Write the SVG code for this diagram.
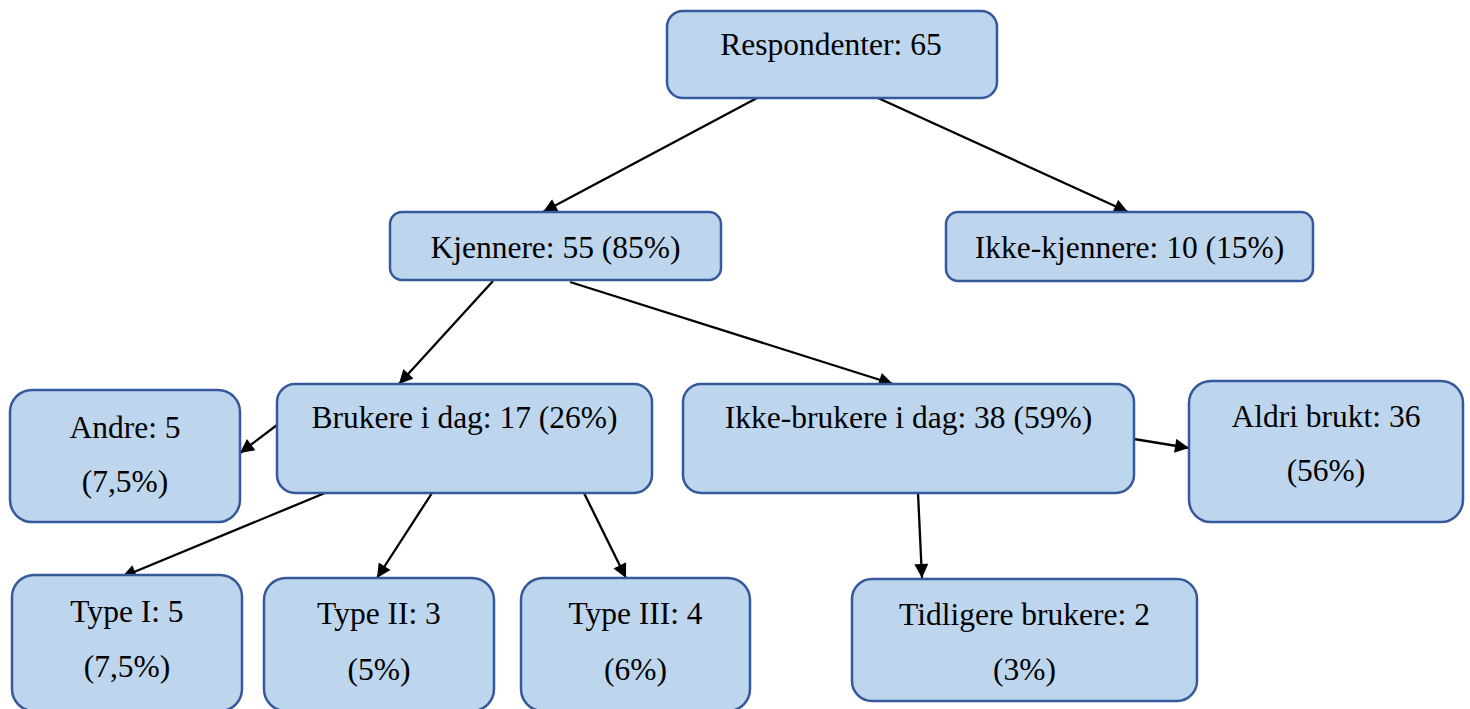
<svg xmlns="http://www.w3.org/2000/svg" width="1470" height="709" viewBox="0 0 1470 709">
<defs>
<style>
.box{fill:#BDD6EE;stroke:#35599A;stroke-width:2.5}
.t{font-family:"Liberation Serif","Times New Roman",serif;font-size:31.5px;fill:#000;text-anchor:middle}
.c{stroke:#000;stroke-width:2.3;fill:none;marker-end:url(#ah)}
</style>
<marker id="ah" viewBox="0 0 10 10" refX="10" refY="5" markerWidth="17" markerHeight="14" markerUnits="userSpaceOnUse" orient="auto">
<path d="M0,0 L10,5 L0,10 z" fill="#000"/>
</marker>
</defs>
<rect width="1470" height="709" fill="#fff"/>
<g id="connectors">
<line class="c" x1="757" y1="98" x2="543" y2="212"/>
<line class="c" x1="878" y1="98" x2="1128" y2="212"/>
<line class="c" x1="493" y1="281" x2="399" y2="384"/>
<line class="c" x1="570" y1="282" x2="893" y2="384"/>
<line class="c" x1="277" y1="425" x2="240" y2="453"/>
<line class="c" x1="1134" y1="439" x2="1189" y2="448"/>
<line class="c" x1="325" y1="493" x2="122" y2="577"/>
<line class="c" x1="432" y1="493" x2="377" y2="578"/>
<line class="c" x1="584" y1="493" x2="626" y2="578"/>
<line class="c" x1="918" y1="493" x2="922" y2="578"/>
</g>
<g id="respondenter">
<rect class="box" x="667" y="11" width="330" height="87" rx="16"/>
<text class="t" x="831" y="55">Respondenter: 65</text>
</g>
<g id="kjennere">
<rect class="box" x="390" y="212" width="331" height="68" rx="12"/>
<text class="t" x="555.5" y="258">Kjennere: 55 (85%)</text>
</g>
<g id="ikke-kjennere">
<rect class="box" x="946" y="212" width="367" height="69" rx="12"/>
<text class="t" x="1129.5" y="258">Ikke-kjennere: 10 (15%)</text>
</g>
<g id="andre">
<rect class="box" x="10" y="390" width="230" height="132" rx="22"/>
<text class="t" x="125" y="438">Andre: 5</text>
<text class="t" x="125" y="492">(7,5%)</text>
</g>
<g id="brukere">
<rect class="box" x="277" y="384" width="375" height="109" rx="18"/>
<text class="t" x="464.5" y="428">Brukere i dag: 17 (26%)</text>
</g>
<g id="ikke-brukere">
<rect class="box" x="683" y="384" width="451" height="109" rx="18"/>
<text class="t" x="908.5" y="428">Ikke-brukere i dag: 38 (59%)</text>
</g>
<g id="aldri">
<rect class="box" x="1189" y="381" width="274" height="141" rx="22"/>
<text class="t" x="1326" y="427">Aldri brukt: 36</text>
<text class="t" x="1326" y="481">(56%)</text>
</g>
<g id="type1">
<rect class="box" x="12" y="575" width="230" height="136" rx="22"/>
<text class="t" x="127" y="622">Type I: 5</text>
<text class="t" x="127" y="677">(7,5%)</text>
</g>
<g id="type2">
<rect class="box" x="264" y="578" width="230" height="133" rx="22"/>
<text class="t" x="379" y="624">Type II: 3</text>
<text class="t" x="379" y="680">(5%)</text>
</g>
<g id="type3">
<rect class="box" x="521" y="578" width="229" height="133" rx="22"/>
<text class="t" x="635.5" y="624">Type III: 4</text>
<text class="t" x="635.5" y="680">(6%)</text>
</g>
<g id="tidligere">
<rect class="box" x="852" y="579" width="345" height="122" rx="20"/>
<text class="t" x="1024.5" y="625">Tidligere brukere: 2</text>
<text class="t" x="1024.5" y="680">(3%)</text>
</g>
</svg>
